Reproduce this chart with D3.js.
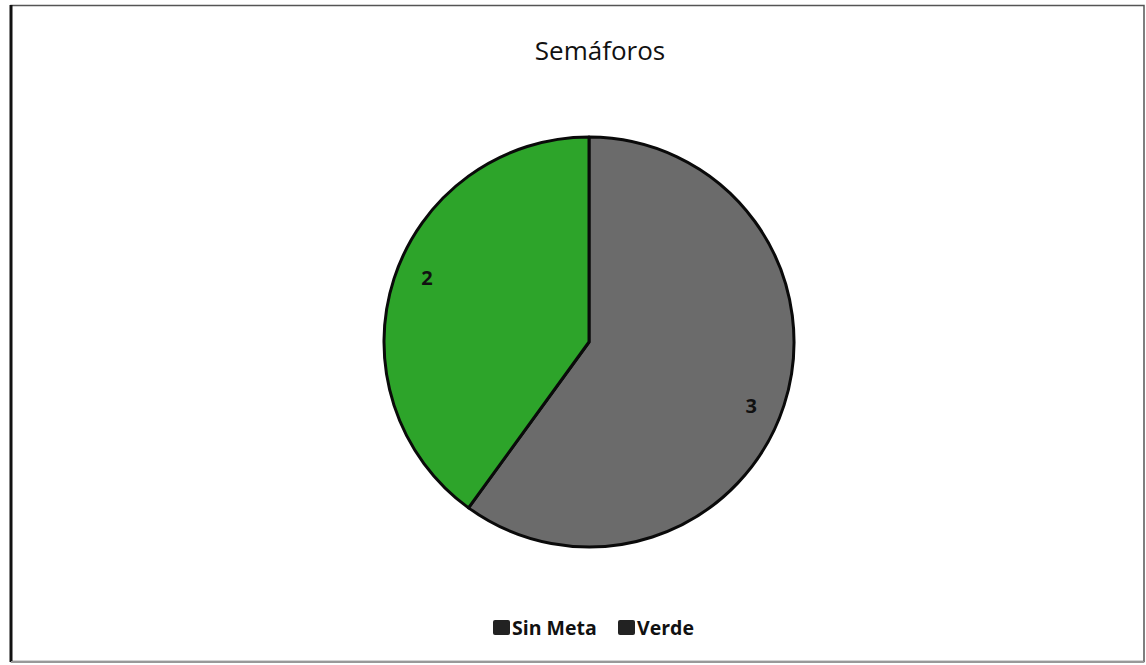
<!DOCTYPE html>
<html><head><meta charset="utf-8">
<script src="https://cdn.jsdelivr.net/npm/d3@7"></script>
<style>body{margin:0;background:#fff}svg{display:block}</style>
</head><body>
<svg id="c" width="1146" height="665"></svg>
<script>
const categories = ["Sin Meta", "Verde"];
const values = [3, 2];
const colors = ["#6b6b6b", "#2da42a"];
const legendColors = ["#222222", "#222222"];
const title = "Semáforos";

const svg = d3.select("#c");
// frame
svg.append("rect").attr("x", 11).attr("y", 5.5).attr("width", 1133).attr("height", 656)
  .attr("fill", "#fff").attr("stroke", "#555").attr("stroke-width", 1.5);
svg.append("line").attr("x1", 11).attr("x2", 11).attr("y1", 5).attr("y2", 662)
  .attr("stroke", "#111").attr("stroke-width", 3);
svg.append("line").attr("x1", 11).attr("x2", 1144).attr("y1", 662).attr("y2", 662)
  .attr("stroke", "#999").attr("stroke-width", 2);

svg.append("text").attr("x", 600).attr("y", 60).attr("text-anchor", "middle")
  .attr("font-family", "Open Sans, sans-serif").attr("font-size", 26).attr("fill", "#111").text(title);

const cx = 589, cy = 342, R = 205;
const pie = d3.pie().sort(null).value(d => d.v);
const data = pie(categories.map((c, i) => ({c, v: values[i], col: colors[i]})));
const arc = d3.arc().innerRadius(0).outerRadius(R);
const g = svg.append("g").attr("transform", `translate(${cx},${cy})`);
g.selectAll("path").data(data).join("path").attr("d", arc)
  .attr("fill", d => d.data.col).attr("stroke", "#0a0a0a").attr("stroke-width", 3).attr("stroke-linejoin", "round");
const labelArc = d3.arc().innerRadius(R * 0.85).outerRadius(R * 0.85);
const shift = 3.5 * Math.PI / 180;
g.selectAll("text.lbl").data(data).join("text").attr("class", "lbl")
  .attr("transform", d => { const c = labelArc.centroid({startAngle: d.startAngle + shift, endAngle: d.endAngle + shift}); return `translate(${c[0]},${c[1]})`; })
  .attr("text-anchor", "middle").attr("dy", "0.36em")
  .attr("font-family", "Open Sans, sans-serif").attr("font-weight", "bold").attr("font-size", 20).attr("fill", "#111")
  .text(d => d.data.v);

// legend
const lg = svg.append("g").attr("font-family", "Open Sans, sans-serif").attr("font-weight", "bold").attr("font-size", 19.5);
const legendX = [493, 618];
categories.forEach((c, i) => {
  lg.append("rect").attr("x", legendX[i]).attr("y", 620).attr("width", 17).attr("height", 15).attr("rx", 2).attr("fill", legendColors[i]);
  lg.append("text").attr("x", legendX[i] + 19).attr("y", 634.5).attr("fill", "#111").text(c);
});
</script>
</body></html>
